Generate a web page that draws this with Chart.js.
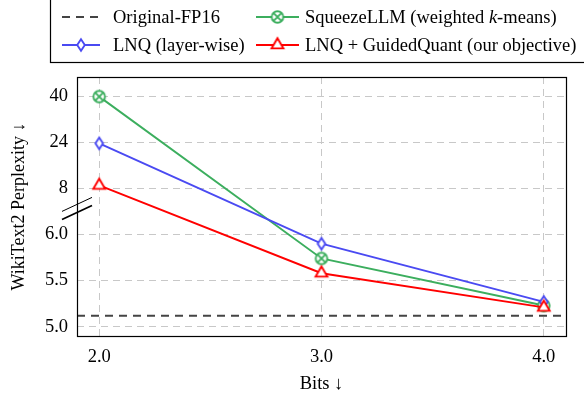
<!DOCTYPE html>
<html><head><meta charset="utf-8">
<script src="https://cdn.jsdelivr.net/npm/chart.js@4/dist/chart.umd.min.js"></script>
<style>html,body{margin:0;padding:0;background:#fff;}#wrap{width:584px;height:402px;}</style>
</head><body><div id="wrap"><canvas id="c" width="584" height="402"></canvas></div>
<script>
// ---- data ----
const bits = [2.0, 3.0, 4.0];
const squeezeLLM = [39.8, 5.74, 5.23];
const lnqLayerwise = [23.6, 5.90, 5.27];
const lnqGuided = [9.0, 5.58, 5.21];
const fp16 = 5.12;
const yTicks = [5.0, 5.5, 6.0, 8, 24, 40];
const xTicks = [2.0, 3.0, 4.0];
const X_MIN = 1.9, X_MAX = 4.1;
const Y_MIN = 4.9, Y_MAX = 46.6;

const FONT = '"Liberation Serif", "Times New Roman", serif';
const FS = 18.5;
const GREEN = '#3cae5e', BLUE = '#4a4af2', RED = '#ff0000', GRAY = '#444444';
const LW = 1.9;

// ---- broken y scale (5-6 linear, 6-8 compressed, 8-40 linear) ----
function brk(v){ if (v <= 6) return (v - 5) / 0.5; if (v >= 8) return 3 + (v - 8) / 16; return 2 + (v - 6) / 2; }
function unbrk(t){ if (t <= 2) return 5 + t * 0.5; if (t >= 3) return 8 + (t - 3) * 16; return 6 + (t - 2) * 2; }
class BrokenScale extends Chart.LinearScale {
  buildTicks(){ return yTicks.map(v => ({value: v})); }
  getPixelForValue(v){ const a = brk(this.min), b = brk(this.max); return this.getPixelForDecimal((brk(v) - a) / (b - a)); }
  getValueForPixel(p){ const a = brk(this.min), b = brk(this.max); return unbrk(a + this.getDecimalForPixel(p) * (b - a)); }
}
BrokenScale.id = 'broken';
BrokenScale.defaults = Chart.LinearScale.defaults;
Chart.register(BrokenScale);

// ---- markers ----
function marker(kind, color){
  const s = 20, m = s / 2;
  const c = document.createElement('canvas'); c.width = s; c.height = s;
  const g = c.getContext('2d');
  g.strokeStyle = color; g.fillStyle = '#fff'; g.lineWidth = LW; g.lineJoin = 'miter';
  g.beginPath();
  if (kind === 'circx') {
    const r = 5.8;
    g.arc(m, m, r, 0, Math.PI * 2); g.fill(); g.stroke();
    const d = r * Math.SQRT1_2;
    g.beginPath(); g.moveTo(m - d, m - d); g.lineTo(m + d, m + d); g.moveTo(m + d, m - d); g.lineTo(m - d, m + d); g.stroke();
  } else if (kind === 'diamond') {
    g.moveTo(m, m - 5.8); g.lineTo(m + 3.8, m); g.lineTo(m, m + 5.8); g.lineTo(m - 3.8, m); g.closePath(); g.fill(); g.stroke();
  } else {
    const r = 6.8;
    g.moveTo(m, m - r); g.lineTo(m + 0.866 * r, m + 0.5 * r); g.lineTo(m - 0.866 * r, m + 0.5 * r); g.closePath(); g.fill(); g.stroke();
  }
  return c;
}
const mkGreen = marker('circx', GREEN), mkBlue = marker('diamond', BLUE), mkRed = marker('tri', RED);

const pts = ys => bits.map((b, i) => ({x: b, y: ys[i]}));

// ---- custom legend + frame + axis break ----
const deco = {
  id: 'deco',
  afterDraw(chart){
    const ctx = chart.ctx, a = chart.chartArea;
    ctx.save();
    // frame
    ctx.strokeStyle = '#000'; ctx.lineWidth = 1.2; ctx.setLineDash([]);
    ctx.strokeRect(Math.round(a.left) + 0.5, Math.round(a.top) + 0.5, Math.round(a.right - a.left), Math.round(a.bottom - a.top));
    // axis break marks
    const yb = chart.scales.y.getPixelForValue(7);
    ctx.beginPath(); ctx.lineWidth = 1; ctx.moveTo(a.left - 15, yb + 0); ctx.lineTo(a.left + 15, yb - 14); ctx.stroke();
    ctx.beginPath(); ctx.lineWidth = 1.7; ctx.moveTo(a.left - 15, yb + 8); ctx.lineTo(a.left + 15, yb - 6); ctx.stroke();
    // legend box
    ctx.lineWidth = 1.2;
    ctx.strokeRect(50.5, -2, 560, 64.5);
    const rows = [17, 45];
    const items = [
      {x0: 62, x1: 100, y: rows[0], color: GRAY, dash: [8, 6], w: 2, mk: null, tx: 113, text: [['Original-FP16', false]]},
      {x0: 256, x1: 299, y: rows[0], color: GREEN, dash: [], w: LW, mk: mkGreen, tx: 305, text: [['SqueezeLLM (weighted ', false], ['k', true], ['-means)', false]]},
      {x0: 62, x1: 100, y: rows[1], color: BLUE, dash: [], w: LW, mk: mkBlue, tx: 113, text: [['LNQ (layer-wise)', false]]},
      {x0: 256, x1: 299, y: rows[1], color: RED, dash: [], w: LW, mk: mkRed, tx: 305, text: [['LNQ + GuidedQuant (our objective)', false]]}
    ];
    items.forEach(it => {
      ctx.beginPath(); ctx.strokeStyle = it.color; ctx.lineWidth = it.w; ctx.setLineDash(it.dash);
      ctx.moveTo(it.x0, it.y); ctx.lineTo(it.x1, it.y); ctx.stroke(); ctx.setLineDash([]);
      if (it.mk) ctx.drawImage(it.mk, (it.x0 + it.x1) / 2 - it.mk.width / 2, it.y - it.mk.height / 2);
      let x = it.tx;
      ctx.fillStyle = '#000'; ctx.textBaseline = 'middle'; ctx.textAlign = 'left';
      it.text.forEach(([t, ital]) => {
        ctx.font = (ital ? 'italic ' : '') + FS + 'px ' + FONT;
        ctx.fillText(t, x, it.y + 1);
        x += ctx.measureText(t).width;
      });
    });
    ctx.restore();
  }
};

const font = {family: FONT, size: FS};
new Chart(document.getElementById('c'), {
  type: 'line',
  data: {
    datasets: [
      {label: 'Original-FP16', data: [{x: X_MIN, y: fp16}, {x: X_MAX, y: fp16}], borderColor: GRAY, borderWidth: 2, borderDash: [8, 6], pointRadius: 0, order: 4},
      {label: 'SqueezeLLM (weighted k-means)', data: pts(squeezeLLM), borderColor: GREEN, borderWidth: LW, pointStyle: mkGreen, pointRadius: 6, order: 3},
      {label: 'LNQ (layer-wise)', data: pts(lnqLayerwise), borderColor: BLUE, borderWidth: LW, pointStyle: mkBlue, pointRadius: 6, order: 2},
      {label: 'LNQ + GuidedQuant (our objective)', data: pts(lnqGuided), borderColor: RED, borderWidth: LW, pointStyle: mkRed, pointRadius: 6, order: 1}
    ]
  },
  options: {
    responsive: false, animation: false, devicePixelRatio: 1,
    layout: {padding: {left: 0, right: 18, top: 77, bottom: 0}},
    plugins: {legend: {display: false}, tooltip: {enabled: false}},
    elements: {line: {tension: 0}},
    scales: {
      x: {
        type: 'linear', min: X_MIN, max: X_MAX,
        afterBuildTicks: s => { s.ticks = xTicks.map(v => ({value: v})); },
        afterFit: s => { s.height = 66; },
        ticks: {callback: v => Number(v).toFixed(1), font, color: '#000', padding: 10, maxRotation: 0},
        grid: {color: '#c8c8c8', lineWidth: 1, drawTicks: false},
        border: {display: false, dash: [7, 5]},
        title: {display: true, text: 'Bits ↓', font, color: '#000', padding: {top: 0, bottom: 7}}
      },
      y: {
        type: 'broken', min: Y_MIN, max: Y_MAX,
        afterFit: s => { s.width = 77; },
        ticks: {callback: v => (v < 7 ? Number(v).toFixed(1) : String(v)), font, color: '#000', padding: 9},
        grid: {color: '#c8c8c8', lineWidth: 1, drawTicks: false},
        border: {display: false, dash: [7, 5]},
        title: {display: true, text: 'WikiText2 Perplexity ↓', font: {family: FONT, size: 18}, color: '#000', padding: {top: 8, bottom: 0}}
      }
    }
  },
  plugins: [deco]
});
</script></body></html>
